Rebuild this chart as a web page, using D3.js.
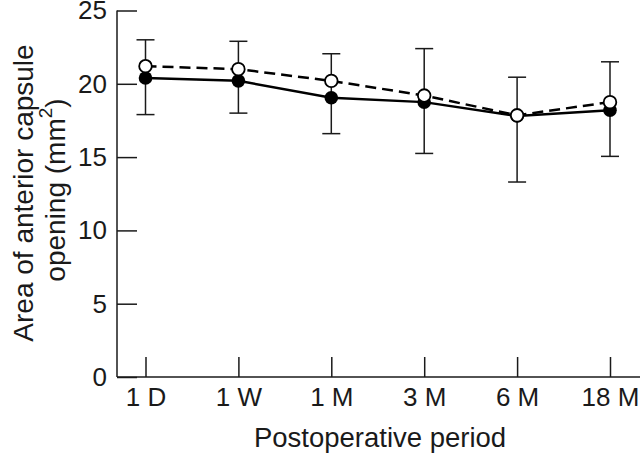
<!DOCTYPE html>
<html>
<head>
<meta charset="utf-8">
<script src="https://cdn.jsdelivr.net/npm/d3@7"></script>
<style>
  html, body { margin: 0; padding: 0; background: #fff; }
  svg { display: block; font-family: "Liberation Sans", Arial, sans-serif; }
</style>
</head>
<body>
<svg id="chart" width="640" height="454"></svg>
<script>
// ---- data ----
const categories = ["1 D", "1 W", "1 M", "3 M", "6 M", "18 M"];
const filledMeans = [20.4, 20.2, 19.05, 18.75, 17.8, 18.2];
const openMeans   = [21.2, 21.0, 20.2, 19.2, 17.85, 18.75];
const errUpper    = [23.0, 22.9, 22.05, 22.4, 20.45, 21.5];
const errLower    = [17.9, 18.0, 16.6, 15.25, 13.3, 15.05];
const yTicks      = [0, 5, 10, 15, 20, 25];
const xTitle = "Postoperative period";
const yTitleLine1 = "Area of anterior capsule";
const yTitleLine2 = "opening (mm";
const yTitleSup = "2";
const yTitleEnd = ")";

// ---- layout ----
const svg = d3.select("#chart");
const axisX0 = 117, axisX1 = 640;
const plotTop = 10.5, plotBottom = 377;
const ink = "#1a1a1a";

const x = d3.scalePoint().domain(categories).range([145.5, 610]);
const y = d3.scaleLinear().domain([0, 25]).range([plotBottom, plotTop]);

// y axis
const gy = svg.append("g").attr("transform", `translate(${axisX0},0)`)
  .call(d3.axisLeft(y).tickValues(yTicks).tickSize(-20).tickSizeOuter(0).tickPadding(10));
gy.select(".domain").remove();
gy.selectAll(".tick line").attr("stroke", ink).attr("stroke-width", 1.5);
gy.selectAll(".tick text").attr("font-size", 26).attr("fill", ink)
  .attr("font-family", "Liberation Sans, Arial, sans-serif");

// x axis
const gx = svg.append("g").attr("transform", `translate(0,${plotBottom})`)
  .call(d3.axisBottom(x).tickSize(-20).tickSizeOuter(0).tickPadding(11));
gx.select(".domain").remove();
gx.selectAll(".tick line").attr("stroke", ink).attr("stroke-width", 1.5);
gx.selectAll(".tick text").attr("font-size", 26).attr("fill", ink)
  .attr("font-family", "Liberation Sans, Arial, sans-serif");

// axis lines
svg.append("line").attr("x1", axisX0).attr("x2", axisX0)
  .attr("y1", y(25)).attr("y2", y(0)).attr("stroke", ink).attr("stroke-width", 1.5);
svg.append("line").attr("x1", axisX0).attr("x2", axisX1)
  .attr("y1", y(0)).attr("y2", y(0)).attr("stroke", ink).attr("stroke-width", 1.5);

// error bars
const eb = svg.append("g").attr("stroke", ink).attr("stroke-width", 1.5);
categories.forEach((c, i) => {
  const cx = x(c);
  eb.append("line").attr("x1", cx).attr("x2", cx).attr("y1", y(errUpper[i])).attr("y2", y(errLower[i]));
  eb.append("line").attr("x1", cx - 9).attr("x2", cx + 9).attr("y1", y(errUpper[i])).attr("y2", y(errUpper[i]));
  eb.append("line").attr("x1", cx - 9).attr("x2", cx + 9).attr("y1", y(errLower[i])).attr("y2", y(errLower[i]));
});

// lines
const line = d3.line().x((d, i) => x(categories[i])).y(d => y(d));
svg.append("path").datum(filledMeans).attr("d", line)
  .attr("fill", "none").attr("stroke", "#000").attr("stroke-width", 2.5);
svg.append("path").datum(openMeans).attr("d", line)
  .attr("fill", "none").attr("stroke", "#000").attr("stroke-width", 2.5)
  .attr("stroke-dasharray", "11,6");

// markers
svg.append("g").selectAll("circle").data(filledMeans).join("circle")
  .attr("cx", (d, i) => x(categories[i])).attr("cy", d => y(d)).attr("r", 6.8)
  .attr("fill", "#000");
svg.append("g").selectAll("circle").data(openMeans).join("circle")
  .attr("cx", (d, i) => x(categories[i])).attr("cy", d => y(d)).attr("r", 6.3)
  .attr("fill", "#fff").attr("stroke", "#000").attr("stroke-width", 1.8);

// titles
svg.append("text").attr("x", 380).attr("y", 447).attr("text-anchor", "middle")
  .attr("font-size", 27.5).attr("fill", ink).text(xTitle);

const yt = svg.append("g").attr("transform", "rotate(-90)");
yt.append("text").attr("x", -193).attr("y", 33).attr("text-anchor", "middle")
  .attr("font-size", 28).attr("fill", ink).text(yTitleLine1);
const t2 = yt.append("text").attr("x", -190).attr("y", 65).attr("text-anchor", "middle")
  .attr("font-size", 28).attr("fill", ink);
t2.append("tspan").text(yTitleLine2);
t2.append("tspan").attr("font-size", 19).attr("dy", -13).text(yTitleSup);
t2.append("tspan").attr("dy", 13).text(yTitleEnd);
</script>
</body>
</html>
